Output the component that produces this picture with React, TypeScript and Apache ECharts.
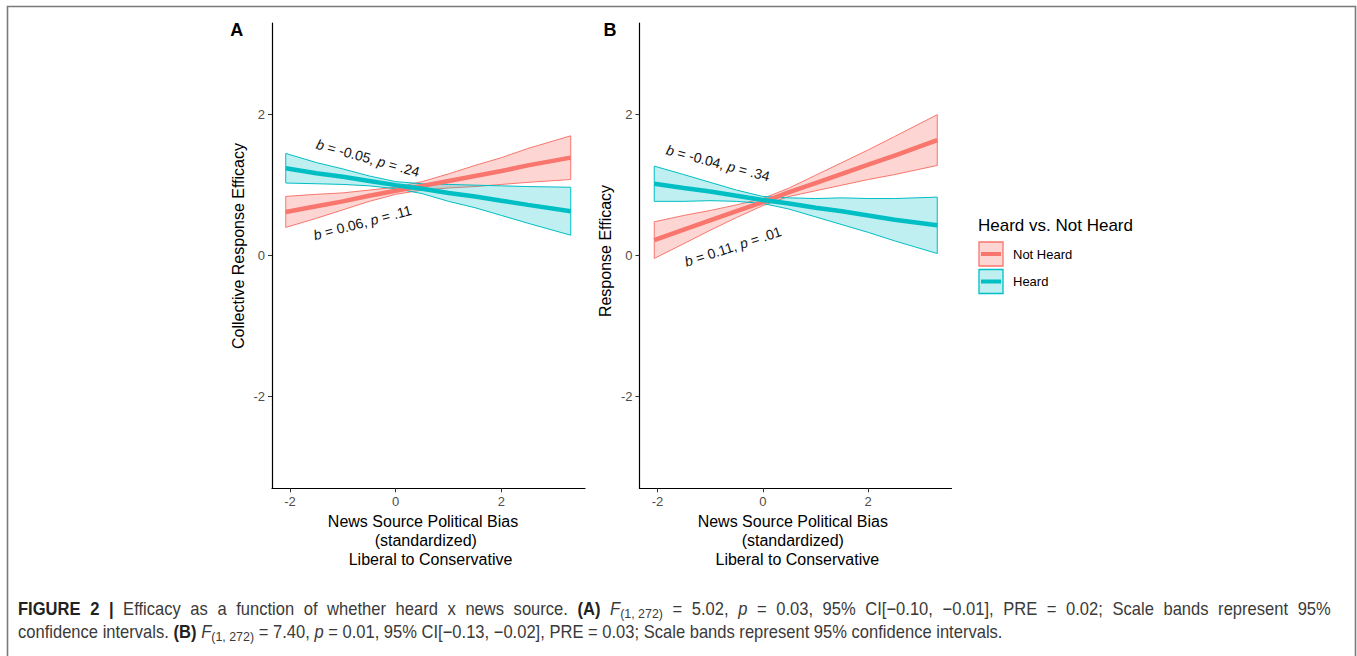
import React, { useEffect, useRef } from 'react';
import * as echarts from 'echarts';

// ---------- data ----------
const X_A = [-2.08, -1.5, -1, -0.5, 0, 0.5, 1, 1.5, 2, 2.5, 3.31];
const X_B = [-2.06, -1.5, -1, -0.5, 0, 0.5, 1, 1.5, 2, 2.5, 3.31];

const A_NOT_HEARD_FIT = [0.62, 0.70, 0.77, 0.85, 0.92, 0.99, 1.06, 1.13, 1.20, 1.28, 1.39];
const A_NOT_HEARD_LO = [0.40, 0.53, 0.65, 0.77, 0.87, 0.93, 0.96, 0.98, 1.01, 1.04, 1.08];
const A_NOT_HEARD_HI = [0.84, 0.87, 0.89, 0.93, 0.97, 1.05, 1.16, 1.28, 1.39, 1.52, 1.70];

const A_HEARD_FIT = [1.24, 1.17, 1.12, 1.06, 1.00, 0.95, 0.89, 0.84, 0.78, 0.72, 0.63];
const A_HEARD_LO = [1.03, 1.02, 1.01, 0.99, 0.95, 0.88, 0.77, 0.68, 0.57, 0.46, 0.29];
const A_HEARD_HI = [1.45, 1.32, 1.23, 1.13, 1.05, 1.02, 1.01, 1.00, 0.99, 0.98, 0.97];

const B_NOT_HEARD_FIT = [0.22, 0.37, 0.50, 0.63, 0.76, 0.90, 1.03, 1.16, 1.29, 1.42, 1.64];
const B_NOT_HEARD_LO = [-0.04, 0.17, 0.36, 0.54, 0.71, 0.84, 0.92, 1.00, 1.08, 1.15, 1.28];
const B_NOT_HEARD_HI = [0.48, 0.57, 0.64, 0.72, 0.81, 0.96, 1.14, 1.32, 1.50, 1.69, 2.00];

const B_HEARD_FIT = [1.02, 0.96, 0.91, 0.85, 0.79, 0.74, 0.68, 0.63, 0.57, 0.51, 0.43];
const B_HEARD_LO = [0.77, 0.77, 0.78, 0.77, 0.74, 0.66, 0.55, 0.44, 0.33, 0.21, 0.03];
const B_HEARD_HI = [1.27, 1.15, 1.04, 0.93, 0.84, 0.82, 0.81, 0.82, 0.81, 0.81, 0.83];

const TICKS = [-2, 0, 2];
const LEGEND_TITLE = 'Heard vs. Not Heard';
const GROUPS = ['Not Heard', 'Heard'];
const Y_TITLES = ['Collective Response Efficacy', 'Response Efficacy'];
const X_TITLE_LINES = ['News Source Political Bias', '(standardized)', 'Liberal to Conservative'];
const PANEL_LETTERS = ['A', 'B'];
const ANNOTATIONS = [
  '{i|b} = -0.05, {i|p} = .24',
  '{i|b} = 0.06, {i|p} = .11',
  '{i|b} = -0.04, {i|p} = .34',
  '{i|b} = 0.11, {i|p} = .01',
];
// caption pieces: [style, text]
const CAPTION_1_PARTS: [string, string][] = [
  ['b', 'FIGURE 2 |'],
  ['n', ' Efficacy as a function of whether heard x news source. '],
  ['b', '(A)'],
  ['n', ' '],
  ['i', 'F'],
  ['s', '(1, 272)'],
  ['n', ' = 5.02, '],
  ['i', 'p'],
  ['n', ' = 0.03, 95% CI[\u22120.10, \u22120.01], PRE = 0.02; Scale bands represent 95%'],
];
const CAPTION_2_PARTS: [string, string][] = [
  ['n', 'confidence intervals. '],
  ['b', '(B)'],
  ['n', ' '],
  ['i', 'F'],
  ['s', '(1, 272)'],
  ['n', ' = 7.40, '],
  ['i', 'p'],
  ['n', ' = 0.01, 95% CI[\u22120.13, \u22120.02], PRE = 0.03; Scale bands represent 95% confidence intervals.'],
];

// ---------- styles ----------
const RED = '#F8766D';
const TEAL = '#00BFC4';
const RED_FILL = 'rgba(248,118,109,0.3)';
const TEAL_FILL = 'rgba(0,191,196,0.25)';
const FONT = "'Liberation Sans', Arial, Helvetica, sans-serif";
const CAP_FONT = "'Liberation Sans', Arial, Helvetica, sans-serif";
const CAP_SIZE = 18;
const CAP_SCALE = 0.92;
const JUSTIFY_SPACE = 10.4;

function band(xs: number[], lo: number[], hi: number[], stroke: string, fill: string, idx: number) {
  return {
    type: 'custom',
    coordinateSystem: 'cartesian2d',
    xAxisIndex: idx,
    yAxisIndex: idx,
    silent: true,
    z: 1,
    data: [[xs[0], lo[0]]],
    renderItem: (_p: any, api: any) => {
      const top = xs.map((x, i) => api.coord([x, hi[i]]));
      const bot = xs.map((x, i) => api.coord([x, lo[i]])).reverse();
      return {
        type: 'polygon',
        shape: { points: top.concat(bot) },
        style: { fill, stroke, lineWidth: 1 },
      };
    },
  };
}

function fitLine(xs: number[], ys: number[], color: string, idx: number, name: string) {
  return {
    type: 'line',
    name,
    xAxisIndex: idx,
    yAxisIndex: idx,
    silent: true,
    z: 3,
    symbol: 'none',
    showSymbol: false,
    data: xs.map((x, i) => [x, ys[i]]),
    lineStyle: { color, width: 4.5 },
  };
}

function xAxis(idx: number) {
  return {
    type: 'value',
    gridIndex: idx,
    min: -2.34,
    max: 3.58,
    splitLine: { show: false },
    axisLine: { show: true, onZero: false, lineStyle: { color: '#000', width: 1.2 } },
    axisTick: { show: true, length: 4, customValues: TICKS, lineStyle: { color: '#333', width: 1 } },
    axisLabel: { customValues: TICKS, color: '#4D4D4D', fontSize: 13, margin: 7, fontFamily: FONT },
  };
}
function yAxis(idx: number) {
  return {
    type: 'value',
    gridIndex: idx,
    min: -3.3,
    max: 3.3,
    splitLine: { show: false },
    axisLine: { show: true, onZero: false, lineStyle: { color: '#000', width: 1.2 } },
    axisTick: { show: true, length: 4, customValues: TICKS, lineStyle: { color: '#333', width: 1 } },
    axisLabel: { customValues: TICKS, color: '#4D4D4D', fontSize: 13, margin: 7, fontFamily: FONT },
  };
}

function txt(text: string, x: number, y: number, extra: any = {}, rotation = 0) {
  return {
    type: 'text',
    x,
    y,
    rotation,
    silent: true,
    style: {
      text,
      fill: '#000',
      fontFamily: FONT,
      fontSize: 16,
      align: 'center',
      verticalAlign: 'middle',
      ...extra,
    },
  };
}

function annot(text: string, x: number, y: number, deg: number) {
  return {
    type: 'text',
    x,
    y,
    rotation: (deg * Math.PI) / 180,
    silent: true,
    style: {
      text,
      fill: '#111',
      fontFamily: FONT,
      fontSize: 14,
      align: 'center',
      verticalAlign: 'middle',
      rich: { i: { fontStyle: 'italic', fontFamily: FONT, fontSize: 14, fill: '#111' } },
    },
  };
}

const capRich = {
  n: { fontFamily: CAP_FONT, fontSize: CAP_SIZE, fill: '#3a3a3a', lineHeight: 22, verticalAlign: 'middle' },
  b: { fontFamily: CAP_FONT, fontSize: CAP_SIZE, fontWeight: 'bold', fill: '#222', lineHeight: 22, verticalAlign: 'middle' },
  i: { fontFamily: CAP_FONT, fontSize: CAP_SIZE, fontStyle: 'italic', fill: '#3a3a3a', lineHeight: 22, verticalAlign: 'middle' },
  s: { fontFamily: CAP_FONT, fontSize: 13.5, fill: '#3a3a3a', lineHeight: 14, verticalAlign: 'bottom' },
  sp: { fontFamily: CAP_FONT, fontSize: CAP_SIZE, fill: '#3a3a3a', lineHeight: 22, verticalAlign: 'middle', width: JUSTIFY_SPACE },
};

function buildRich(parts: [string, string][], justify: boolean) {
  let out = '';
  for (const [st, t] of parts) {
    if (!justify || st === 's') {
      out += `{${st}|${t}}`;
      continue;
    }
    const words = t.split(' ');
    words.forEach((w, i) => {
      if (i > 0) out += '{sp| }';
      if (w.length) out += `{${st}|${w}}`;
    });
  }
  return out;
}

function caption(parts: [string, string][], y: number, justify: boolean) {
  return {
    type: 'text',
    x: 18,
    y,
    scaleX: CAP_SCALE,
    silent: true,
    style: { text: buildRich(parts, justify), align: 'left', verticalAlign: 'middle', rich: capRich },
  };
}

function legendKey(y: number, stroke: string, fill: string) {
  return [
    { type: 'rect', silent: true, shape: { x: 979, y, width: 24, height: 24 }, style: { fill, stroke, lineWidth: 1.3 } },
    { type: 'line', silent: true, shape: { x1: 981, y1: y + 12, x2: 1001, y2: y + 12 }, style: { stroke, lineWidth: 4 } },
  ];
}

const option: any = {
  animation: false,
  backgroundColor: '#fff',
  grid: [
    { left: 272, top: 23, width: 313, height: 465.3 },
    { left: 639.5, top: 23, width: 312, height: 465.3 },
  ],
  xAxis: [xAxis(0), xAxis(1)],
  yAxis: [yAxis(0), yAxis(1)],
  series: [
    band(X_A, A_NOT_HEARD_LO, A_NOT_HEARD_HI, RED, RED_FILL, 0),
    band(X_A, A_HEARD_LO, A_HEARD_HI, TEAL, TEAL_FILL, 0),
    fitLine(X_A, A_NOT_HEARD_FIT, RED, 0, GROUPS[0]),
    fitLine(X_A, A_HEARD_FIT, TEAL, 0, GROUPS[1]),
    band(X_B, B_NOT_HEARD_LO, B_NOT_HEARD_HI, RED, RED_FILL, 1),
    band(X_B, B_HEARD_LO, B_HEARD_HI, TEAL, TEAL_FILL, 1),
    fitLine(X_B, B_NOT_HEARD_FIT, RED, 1, GROUPS[0]),
    fitLine(X_B, B_HEARD_FIT, TEAL, 1, GROUPS[1]),
  ],
  graphic: [
    {
      type: 'rect',
      silent: true,
      shape: { x: 7.5, y: 6.5, width: 1348, height: 700 },
      style: { fill: 'none', stroke: '#7a7a7a', lineWidth: 1.6 },
    },
    txt(PANEL_LETTERS[0], 236.7, 29.7, { fontWeight: 'bold', fontSize: 18 }),
    txt(PANEL_LETTERS[1], 610, 29.7, { fontWeight: 'bold', fontSize: 18 }),
    txt(Y_TITLES[0], 238.5, 246, { fontSize: 16 }, Math.PI / 2),
    txt(Y_TITLES[1], 605.5, 251, { fontSize: 16 }, Math.PI / 2),
    txt(X_TITLE_LINES[0], 423, 521.7, { fontSize: 16 }),
    txt(X_TITLE_LINES[1], 425.8, 540.5, { fontSize: 16 }),
    txt(X_TITLE_LINES[2], 430.5, 559, { fontSize: 16 }),
    txt(X_TITLE_LINES[0], 792.8, 521.7, { fontSize: 16 }),
    txt(X_TITLE_LINES[1], 792.8, 540.5, { fontSize: 16 }),
    txt(X_TITLE_LINES[2], 797.3, 559, { fontSize: 16 }),
    annot(ANNOTATIONS[0], 368, 158, -15.5),
    annot(ANNOTATIONS[1], 362.5, 222.5, 14.7),
    annot(ANNOTATIONS[2], 718, 163, -14.8),
    annot(ANNOTATIONS[3], 733, 246.5, 18),
    txt(LEGEND_TITLE, 978, 225, { fontSize: 17, align: 'left' }),
    ...legendKey(242, RED, RED_FILL),
    ...legendKey(269.5, TEAL, TEAL_FILL),
    txt(GROUPS[0], 1013, 254.5, { fontSize: 13, align: 'left' }),
    txt(GROUPS[1], 1013, 281.5, { fontSize: 13, align: 'left' }),
    caption(CAPTION_1_PARTS, 609, true),
    caption(CAPTION_2_PARTS, 632, false),
  ],
};

export default function App() {
  const ref = useRef<HTMLDivElement>(null);
  useEffect(() => {
    const chart = echarts.init(ref.current as HTMLDivElement, null, { renderer: 'svg' });
    chart.setOption(option);
    return () => chart.dispose();
  }, []);
  return (
    <div
      ref={ref}
      style={{ position: 'absolute', left: 0, top: 0, width: 1357, height: 656, background: '#fff' }}
    />
  );
}
